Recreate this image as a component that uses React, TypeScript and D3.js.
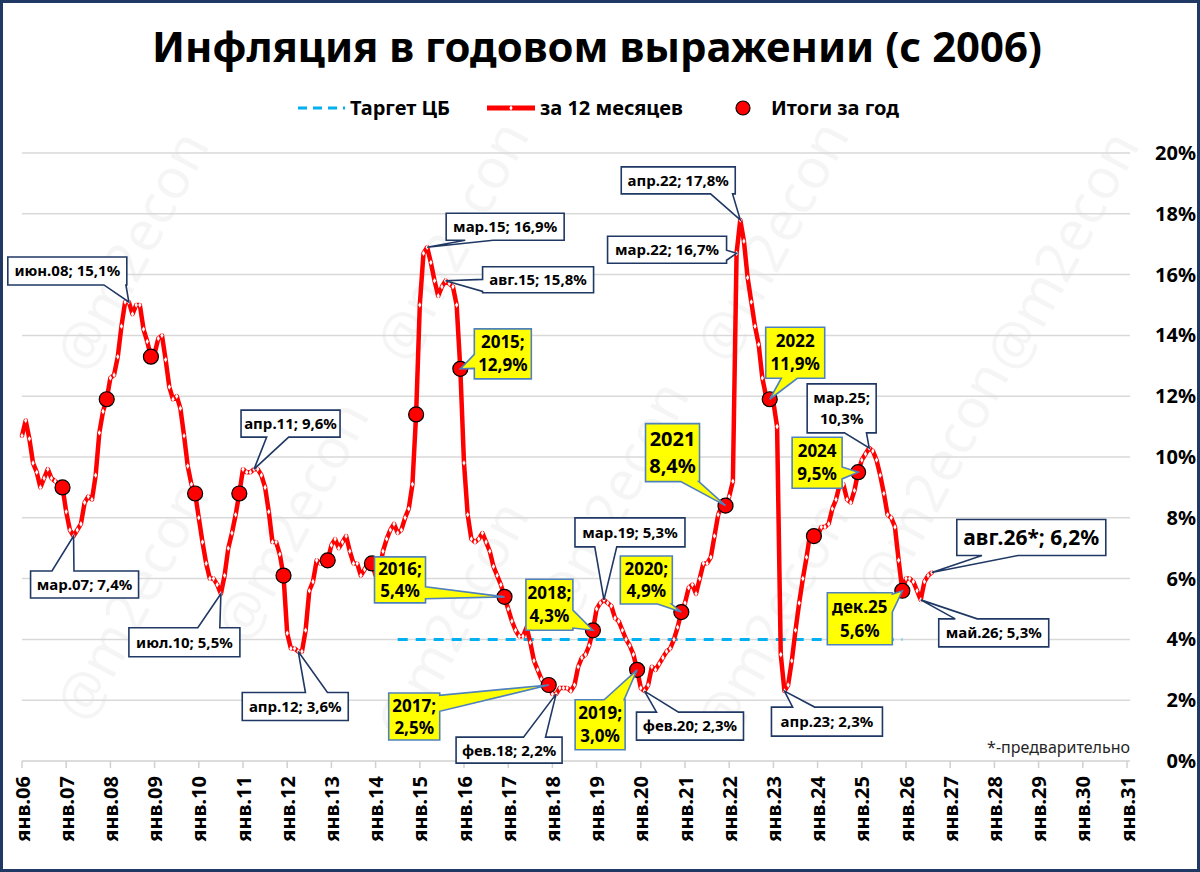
import { scaleLinear, line, range, symbol, symbolDiamond } from 'd3';

const W = 1200;
const H = 872;
const FONT = "'Noto Sans', 'Open Sans', sans-serif";

// инфляция за 12 месяцев, %, помесячно с янв.2006
const cpi2006 = [10.7, 11.2, 10.6, 9.8, 9.5, 9.0, 9.3, 9.6, 9.3, 9.2, 9.1, 9.0];
const cpi2007 = [8.2, 7.6, 7.4, 7.6, 7.8, 8.5, 8.7, 8.6, 9.4, 10.8, 11.5, 11.9];
const cpi2008 = [12.6, 12.7, 13.3, 14.3, 15.1, 15.1, 14.7, 15.0, 15.0, 14.2, 13.8, 13.3];
const cpi2009 = [13.4, 13.9, 14.0, 13.2, 12.3, 11.9, 12.0, 11.6, 10.7, 9.7, 9.1, 8.8];
const cpi2010 = [8.0, 7.2, 6.5, 6.0, 6.0, 5.8, 5.5, 6.1, 7.0, 7.5, 8.1, 8.8];
const cpi2011 = [9.6, 9.5, 9.5, 9.6, 9.6, 9.4, 9.0, 8.2, 7.2, 7.2, 6.8, 6.1];
const cpi2012 = [4.2, 3.7, 3.7, 3.6, 3.6, 4.3, 5.6, 5.9, 6.6, 6.5, 6.5, 6.6];
const cpi2013 = [7.1, 7.3, 7.0, 7.2, 7.4, 6.9, 6.5, 6.5, 6.1, 6.3, 6.5, 6.5];
const cpi2014 = [6.1, 6.2, 6.9, 7.3, 7.6, 7.8, 7.5, 7.6, 8.0, 8.3, 9.1, 11.4];
const cpi2015 = [15.0, 16.7, 16.9, 16.4, 15.8, 15.3, 15.6, 15.8, 15.7, 15.6, 15.0, 12.9];
const cpi2016 = [9.8, 8.1, 7.3, 7.2, 7.3, 7.5, 7.2, 6.9, 6.4, 6.1, 5.8, 5.4];
const cpi2017 = [5.0, 4.6, 4.3, 4.1, 4.1, 4.4, 3.9, 3.3, 3.0, 2.7, 2.5, 2.5];
const cpi2018 = [2.2, 2.2, 2.4, 2.4, 2.4, 2.3, 2.5, 3.1, 3.4, 3.5, 3.8, 4.3];
const cpi2019 = [5.0, 5.2, 5.3, 5.2, 5.1, 4.7, 4.6, 4.3, 4.0, 3.8, 3.5, 3.0];
const cpi2020 = [2.4, 2.3, 2.5, 3.1, 3.0, 3.2, 3.4, 3.6, 3.7, 4.0, 4.4, 4.9];
const cpi2021 = [5.2, 5.7, 5.8, 5.5, 6.0, 6.5, 6.5, 6.7, 7.4, 8.1, 8.4, 8.4];
const cpi2022 = [8.7, 9.2, 16.7, 17.8, 17.1, 15.9, 15.1, 14.3, 13.7, 12.6, 12.0, 11.9];
const cpi2023 = [11.8, 11.0, 3.5, 2.3, 2.5, 3.3, 4.3, 5.2, 6.0, 6.7, 7.5, 7.4];
const cpi2024 = [7.4, 7.7, 7.7, 7.8, 8.3, 8.6, 9.1, 9.1, 8.6, 8.5, 8.9, 9.5];
const cpi2025 = [9.9, 10.1, 10.3, 10.2, 9.9, 9.4, 8.8, 8.1, 8.0, 7.7, 6.6, 5.6];
const cpi2026 = [6.0, 6.0, 5.9, 5.6, 5.3, 5.9, 6.1, 6.2];

const cpi12m = [
  ...cpi2006, ...cpi2007, ...cpi2008, ...cpi2009, ...cpi2010, ...cpi2011,
  ...cpi2012, ...cpi2013, ...cpi2014, ...cpi2015, ...cpi2016, ...cpi2017,
  ...cpi2018, ...cpi2019, ...cpi2020, ...cpi2021, ...cpi2022, ...cpi2023,
  ...cpi2024, ...cpi2025, ...cpi2026,
];

// итоги за год (декабрь к декабрю)
const yearEndYears = range(2006, 2026);
const yearEnd = [9.0, 11.9, 13.3, 8.8, 8.8, 6.1, 6.6, 6.5, 11.4, 12.9, 5.4, 2.5, 4.3, 3.0, 4.9, 8.4, 11.9, 7.4, 9.5, 5.6];

// таргет ЦБ
const targetValue = 4;
const targetFrom = '2014-07';
const targetTo = '2025-12';

const yTicks = range(0, 21, 2);
const xYears = range(2006, 2032);

const mIdx = (key: string) => {
  const [yy, mm] = key.split('-').map(Number);
  return (yy - 2006) * 12 + (mm - 1);
};

type Note = { at: string; on: 'm' | 'y'; text: string[]; kind: 'w' | 'y'; fs: number; lh?: number };
const notes: Note[] = [
  { at: '2008-06', on: 'm', text: ['июн.08; 15,1%'], kind: 'w', fs: 15 },
  { at: '2007-03', on: 'm', text: ['мар.07; 7,4%'], kind: 'w', fs: 15 },
  { at: '2010-07', on: 'm', text: ['июл.10; 5,5%'], kind: 'w', fs: 15 },
  { at: '2011-04', on: 'm', text: ['апр.11; 9,6%'], kind: 'w', fs: 15 },
  { at: '2012-04', on: 'm', text: ['апр.12; 3,6%'], kind: 'w', fs: 15 },
  { at: '2015-03', on: 'm', text: ['мар.15; 16,9%'], kind: 'w', fs: 15 },
  { at: '2015-08', on: 'm', text: ['авг.15; 15,8%'], kind: 'w', fs: 15 },
  { at: '2015-12', on: 'y', text: ['2015;', '12,9%'], kind: 'y', fs: 17, lh: 23 },
  { at: '2016-12', on: 'y', text: ['2016;', '5,4%'], kind: 'y', fs: 17, lh: 22 },
  { at: '2017-12', on: 'y', text: ['2017;', '2,5%'], kind: 'y', fs: 17, lh: 22 },
  { at: '2018-02', on: 'm', text: ['фев.18; 2,2%'], kind: 'w', fs: 15 },
  { at: '2018-12', on: 'y', text: ['2018;', '4,3%'], kind: 'y', fs: 17, lh: 23 },
  { at: '2019-03', on: 'm', text: ['мар.19; 5,3%'], kind: 'w', fs: 15 },
  { at: '2019-12', on: 'y', text: ['2019;', '3,0%'], kind: 'y', fs: 17, lh: 23 },
  { at: '2020-02', on: 'm', text: ['фев.20; 2,3%'], kind: 'w', fs: 15 },
  { at: '2020-12', on: 'y', text: ['2020;', '4,9%'], kind: 'y', fs: 17, lh: 22 },
  { at: '2021-12', on: 'y', text: ['2021', '8,4%'], kind: 'y', fs: 20, lh: 27 },
  { at: '2022-03', on: 'm', text: ['мар.22; 16,7%'], kind: 'w', fs: 15 },
  { at: '2022-04', on: 'm', text: ['апр.22; 17,8%'], kind: 'w', fs: 15 },
  { at: '2022-12', on: 'y', text: ['2022', '11,9%'], kind: 'y', fs: 17, lh: 23 },
  { at: '2023-04', on: 'm', text: ['апр.23; 2,3%'], kind: 'w', fs: 15 },
  { at: '2024-12', on: 'y', text: ['2024', '9,5%'], kind: 'y', fs: 17, lh: 23 },
  { at: '2025-03', on: 'm', text: ['мар.25;', '10,3%'], kind: 'w', fs: 15, lh: 21 },
  { at: '2025-12', on: 'y', text: ['дек.25', '5,6%'], kind: 'y', fs: 17, lh: 24 },
  { at: '2026-05', on: 'm', text: ['май.26; 5,3%'], kind: 'w', fs: 15 },
  { at: '2026-08', on: 'm', text: ['авг.26*; 6,2%'], kind: 'w', fs: 21 },
];

// расположение выносок относительно точки: dx, dy, w, h, сторона, доля, полуширина
type Box = [number, number, number, number, 't' | 'b' | 'l' | 'r', number, number?];
const noteBoxes: Box[] = [
  [-121, -45, 119, 28, 'b', 0.9],
  [-43, 35, 108, 27, 't', 0.3],
  [-92, 34, 111, 29, 't', 0.72],
  [-13, -59, 99, 27, 'b', 0.37],
  [-56, 41, 106, 28, 't', 0.7],
  [19, -34, 118, 27, 'b', 0.28, 14],
  [37, -14, 111, 26, 'l', 0.72, 6],
  [14, -40, 57, 50, 'l', 0.65, 7],
  [-130, -40, 51, 46, 'r', 0.78, 6],
  [-160, 8, 51, 47, 'r', 0.22, 8],
  [-100, 43, 106, 26, 't', 0.74],
  [-67, -51, 47, 51, 'r', 0.78, 9],
  [-29, -82, 110, 29, 'b', 0.28],
  [-62, 30, 50, 50, 't', 0.78, 10],
  [-8, 21, 107, 28, 't', 0.29],
  [-61, -56, 52, 48, 'b', 0.85, 7],
  [-80, -82, 54, 58, 'b', 0.82, 9],
  [-129, -17, 119, 27, 'r', 0.7, 5],
  [-119, -53, 114, 27, 'b', 0.88],
  [-4, -72, 59, 51, 'b', 0.4, 8],
  [-13, 16, 111, 29, 't', 0.29],
  [-66, -35, 50, 51, 'r', 0.7, 6],
  [-62, -64, 69, 49, 'b', 0.7],
  [-75, 2, 65, 52, 'r', 0.2, 9],
  [18, 19, 110, 28, 't', 0.25],
  [25, -53, 149, 36, 'b', 0.29, 18],
];

// водяные знаки (центры)
const watermarks: [number, number][] = [
  [130, 250], [450, 240], [770, 240], [1060, 250],
  [290, 520], [610, 500], [930, 480],
  [130, 600], [450, 620], [770, 620],
];

function calloutPath(x0: number, y0: number, w: number, h: number, tx: number, ty: number,
  edge: string, frac: number, hw: number) {
  const x1 = x0 + w;
  const y1 = y0 + h;
  if (edge === 'b' || edge === 't') {
    const c = Math.min(Math.max(x0 + w * frac, x0 + hw), x1 - hw);
    if (edge === 'b') return `M${x0},${y0}H${x1}V${y1}H${c + hw}L${tx},${ty}L${c - hw},${y1}H${x0}Z`;
    return `M${x0},${y0}H${c - hw}L${tx},${ty}L${c + hw},${y0}H${x1}V${y1}H${x0}Z`;
  }
  const c = Math.min(Math.max(y0 + h * frac, y0 + hw), y1 - hw);
  if (edge === 'l') return `M${x0},${y0}H${x1}V${y1}H${x0}V${c + hw}L${tx},${ty}L${x0},${c - hw}Z`;
  return `M${x0},${y0}H${x1}V${c - hw}L${tx},${ty}L${x1},${c + hw}V${y1}H${x0}Z`;
}

export default function App() {
  const x = scaleLinear().domain([0, 300]).range([22, 1127]);
  const y = scaleLinear().domain([0, 20]).range([761, 153]);
  const gridRight = 1130;

  const cpiLine = line<number>().x((_, i) => x(i)).y(d => y(d));
  const diamond = symbol(symbolDiamond, 9)() || '';

  const yearX = (yr: number) => x((yr - 2006) * 12 + 11);

  return (
    <svg width={W} height={H} style={{ position: 'absolute', left: 0, top: 0 }} fontFamily={FONT}>
      <rect x={0} y={0} width={W} height={H} fill="#fff" />

      {watermarks.map(([wx, wy], i) => (
        <text key={i} x={wx} y={wy} transform={`rotate(-62 ${wx} ${wy})`} textAnchor="middle"
          dominantBaseline="central" fontSize={56} fill="#000" fillOpacity={0.04}>@m2econ</text>
      ))}

      {/* сетка */}
      {yTicks.filter(t => t > 0).map(t => (
        <line key={t} x1={x(0)} x2={gridRight} y1={y(t)} y2={y(t)} stroke="#d9d9d9" strokeWidth={1.5} />
      ))}
      <line x1={x(0)} x2={gridRight} y1={y(0)} y2={y(0)} stroke="#d0d0d0" strokeWidth={1.5} />
      {xYears.map(yr => (
        <line key={yr} x1={x((yr - 2006) * 12)} x2={x((yr - 2006) * 12)} y1={y(0)} y2={y(0) + 7}
          stroke="#d0d0d0" strokeWidth={1.5} />
      ))}

      {/* таргет */}
      <line x1={x(mIdx(targetFrom))} x2={x(mIdx(targetTo))} y1={y(targetValue)} y2={y(targetValue)}
        stroke="#00b0f0" strokeWidth={3} strokeDasharray="10 8" />

      {/* за 12 месяцев */}
      <path d={cpiLine(cpi12m) || ''} fill="none" stroke="#ff0000" strokeWidth={4.5}
        strokeLinejoin="round" strokeLinecap="round" />
      {cpi12m.map((v, i) => (
        <path key={i} d={diamond} transform={`translate(${x(i)},${y(v)})`} fill="#fff" />
      ))}

      {/* итоги за год */}
      {yearEnd.map((v, i) => (
        <circle key={i} cx={yearX(yearEndYears[i])} cy={y(v)} r={7.5} fill="#ff0000" stroke="#000" strokeWidth={1.2} />
      ))}

      {/* выноски */}
      {notes.map((n, i) => {
        const idx = mIdx(n.at);
        const v = n.on === 'm' ? cpi12m[idx] : yearEnd[yearEndYears.indexOf(Number(n.at.slice(0, 4)))];
        const tx = x(idx);
        const ty = y(v);
        const [dx, dy, w, h, edge, frac, hw] = noteBoxes[i];
        const x0 = tx + dx;
        const y0 = ty + dy;
        const lh = n.lh || n.fs * 1.3;
        const cy = y0 + h / 2;
        const yellow = n.kind === 'y';
        return (
          <g key={n.at + i}>
            <path d={calloutPath(x0, y0, w, h, tx, ty, edge, frac, hw ?? 11)}
              fill={yellow ? '#ffff00' : '#fff'} stroke={yellow ? '#4f81bd' : '#1f3864'}
              strokeWidth={1.6} strokeLinejoin="miter" />
            {n.text.map((t, k) => (
              <text key={k} x={x0 + w / 2} y={cy - ((n.text.length - 1) * lh) / 2 + k * lh + n.fs * 0.36}
                textAnchor="middle" fontSize={n.fs} fontWeight="bold" fill="#000">{t}</text>
            ))}
          </g>
        );
      })}

      {/* оси */}
      {yTicks.map(t => (
        <text key={t} x={1196} y={y(t) + 7} textAnchor="end" fontSize={20} fontWeight="bold" fill="#000">{t}%</text>
      ))}
      {xYears.map(yr => {
        const px = x((yr - 2006) * 12);
        return (
          <text key={yr} x={px} y={776} transform={`rotate(-90 ${px} 776)`} textAnchor="end"
            dominantBaseline="central" fontSize={20} fontWeight="bold" fill="#000">
            {`янв.${String(yr % 100).padStart(2, '0')}`}
          </text>
        );
      })}

      <text x={1130} y={753} textAnchor="end" fontSize={16} fill="#262626">*-предварительно</text>

      {/* легенда */}
      <line x1={298} x2={345} y1={108} y2={108} stroke="#00b0f0" strokeWidth={3} strokeDasharray="9 6" />
      <text x={350} y={115} fontSize={20} fontWeight="bold">Таргет ЦБ</text>
      <line x1={487} x2={535} y1={108} y2={108} stroke="#ff0000" strokeWidth={5} />
      <path d={diamond} transform="translate(511,108)" fill="#fff" />
      <text x={540} y={115} fontSize={20} fontWeight="bold">за 12 месяцев</text>
      <circle cx={743} cy={108} r={7} fill="#ff0000" stroke="#000" strokeWidth={1.2} />
      <text x={771} y={115} fontSize={20} fontWeight="bold">Итоги за год</text>

      {/* заголовок */}
      <text x={597} y={62} textAnchor="middle" fontSize={42} fontWeight="bold" fill="#000"
        textLength={890} lengthAdjust="spacingAndGlyphs">Инфляция в годовом выражении (с 2006)</text>

      <rect x={1.5} y={1.5} width={W - 3} height={H - 3} fill="none" stroke="#1f3864" strokeWidth={3} />
    </svg>
  );
}
